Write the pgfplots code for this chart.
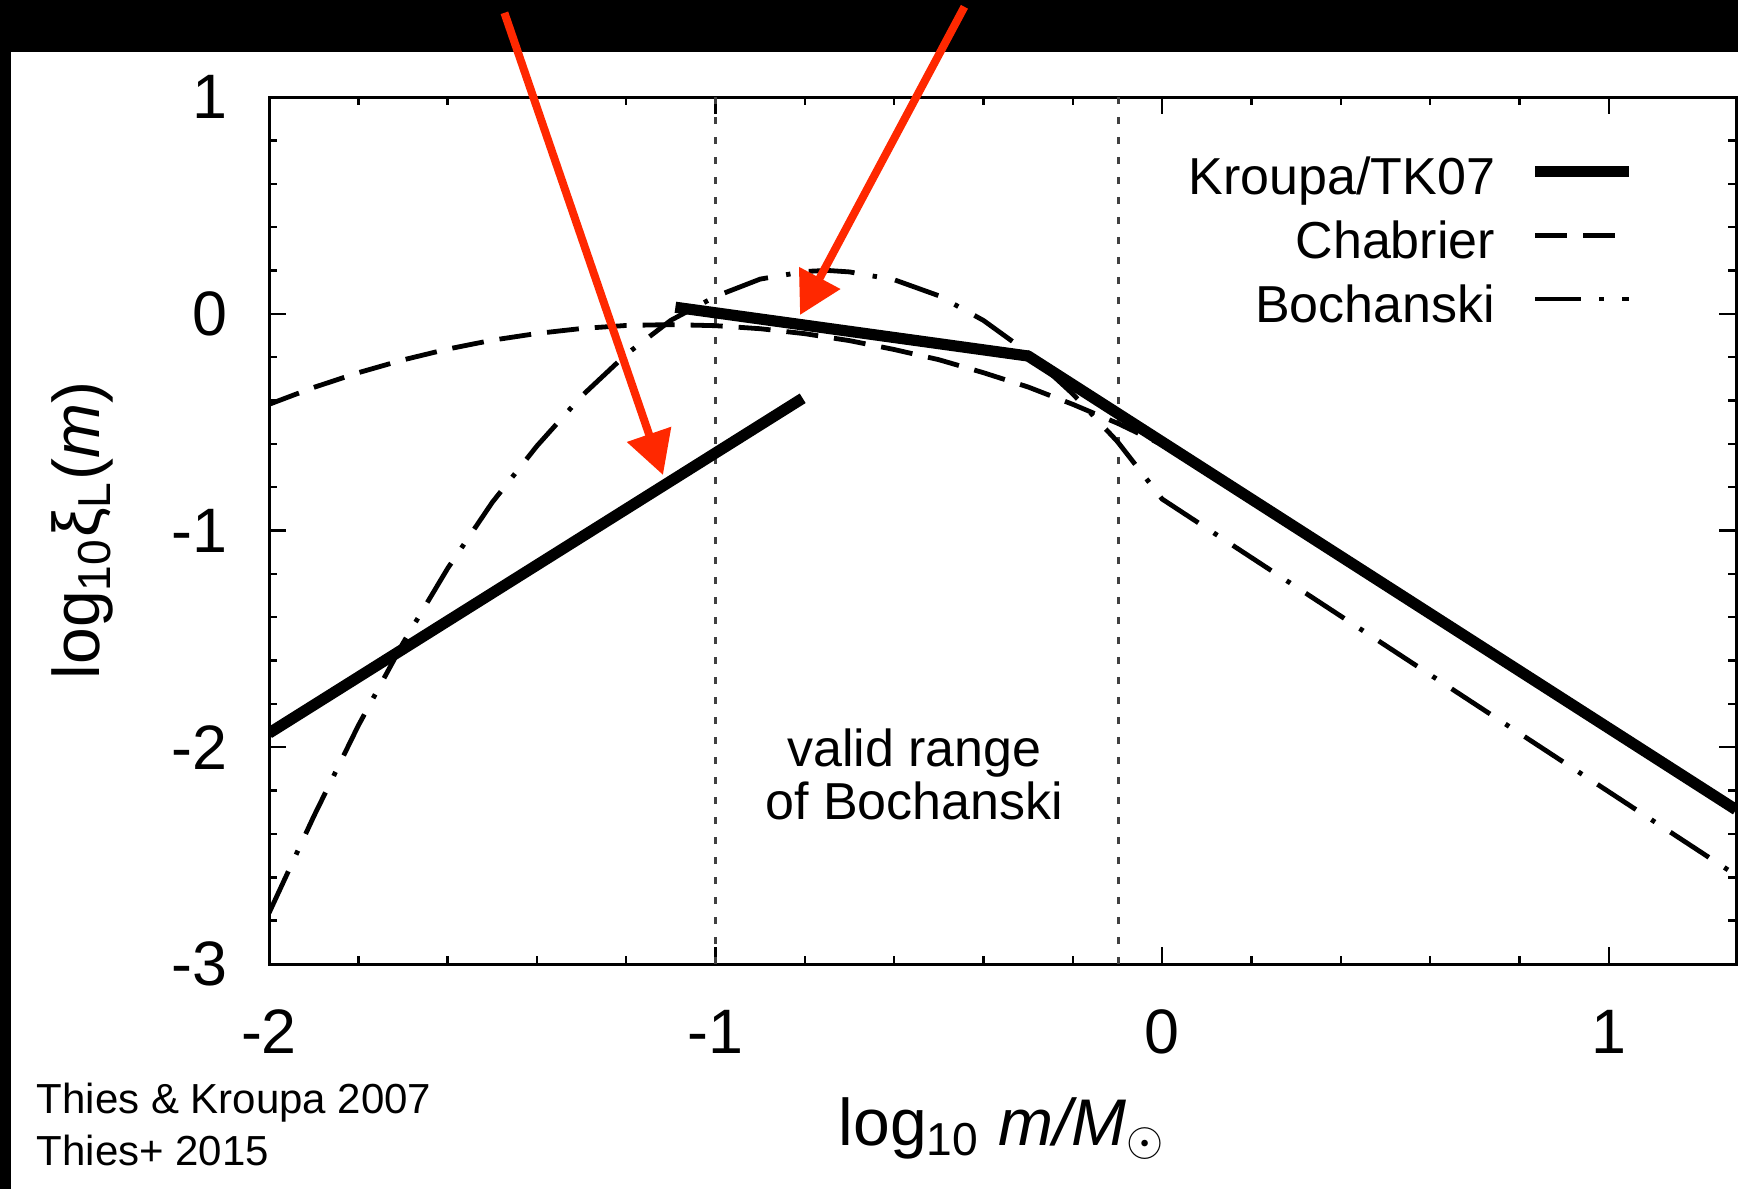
\documentclass[border=0pt]{standalone}
\usepackage{fontspec}
\setmainfont{Liberation Sans}
\usepackage{pgfplots}
\pgfplotsset{compat=1.18}
\usetikzlibrary{arrows.meta}
\definecolor{arrowred}{RGB}{255,40,0}
\begin{document}
\begin{tikzpicture}
\useasboundingbox (0,0) rectangle (434.5bp,-297.25bp);
\fill[white] (0,0) rectangle (434.5bp,-297.25bp);
\fill[black] (0,0) rectangle (434.5bp,-13bp);
\fill[black] (0,0) rectangle (2.75bp,-297.25bp);
\begin{axis}[
  at={(67.25bp,-241bp)}, anchor=south west,
  scale only axis, width=366.75bp, height=216.75bp,
  xmin=-2, xmax=1.285, ymin=-3, ymax=1,
  xtick={-2,-1,0,1}, xticklabels={-2,-1,0,1},
  ytick={-3,-2,-1,0,1}, yticklabels={-3,-2,-1,0,1},
  minor x tick num=4, minor y tick num=4,
  tick align=inside,
  major tick length=4.25bp, minor tick length=2bp,
  axis line style={line width=0.75bp},
  tick style={line width=0.6bp, black},
  ticklabel style={font=\fontsize{15.7bp}{18bp}\selectfont},
  xticklabel style={anchor=base, inner sep=0pt, yshift=-22.25bp},
  yticklabel style={anchor=east, inner sep=0pt, xshift=-10.25bp},
  xlabel={log\textsubscript{10} \textit{m/M}\textsubscript{$\odot$}},
  ylabel={log\textsubscript{10}ξ\textsubscript{L}(\textit{m})},
  label style={font=\fontsize{16.5bp}{19bp}\selectfont, inner sep=0pt},
  xlabel style={at={(axis description cs:0.5,-0.2088)}, anchor=base},
  ylabel style={at={(axis description cs:-0.1152,0.5)}, rotate=0, anchor=base},
  legend style={at={(axis description cs:0.9309,0.9504)}, anchor=north east,
    draw=none, fill=none, inner sep=0pt, outer sep=0pt, row sep=0pt, column sep=8.6bp,
    font=\fontsize{13bp}{15.9bp}\selectfont,
    nodes={inner sep=0pt, text height=13.7bp, text depth=2.2bp}},
  legend cell align=right,
  legend plot pos=right,
  legend image code/.code={\draw[#1] (0bp,0bp) -- (23.5bp,0bp);},
]
% valid range limits
\addplot[black!75, line width=0.8bp, dash pattern=on 1.7bp off 3.3bp, forget plot] coordinates {(-1,-3) (-1,1)};
\addplot[black!75, line width=0.8bp, dash pattern=on 1.7bp off 3.3bp, forget plot] coordinates {(-0.097,-3) (-0.097,1)};

\addplot[black, line width=2.8bp] coordinates {(-2,-1.935) (-0.805,-0.39)};
\addlegendentry{Kroupa/TK07}

\addplot[black, line width=1.2bp, dash pattern=on 8bp off 4bp] coordinates {
(-2,-0.418) (-1.9,-0.340) (-1.8,-0.272) (-1.7,-0.213) (-1.6,-0.163) (-1.5,-0.122)
(-1.4,-0.091) (-1.3,-0.068) (-1.2,-0.054) (-1.1,-0.050) (-1.0,-0.055) (-0.9,-0.069)
(-0.8,-0.092) (-0.7,-0.124) (-0.6,-0.165) (-0.5,-0.212) (-0.4,-0.272) (-0.3,-0.338)
(-0.2,-0.418) (-0.1,-0.505) (0,-0.604) (1.285,-2.275)};
\addlegendentry{Chabrier}

\addplot[black, line width=1.2bp, dash pattern=on 11.5bp off 4.6bp on 1.1bp off 4.6bp] coordinates {
(-2.0,-2.765) (-1.9,-2.32) (-1.8,-1.90) (-1.7,-1.52) (-1.6,-1.175) (-1.5,-0.87)
(-1.4,-0.61) (-1.3,-0.38) (-1.2,-0.187) (-1.1,-0.03) (-1.0,0.08) (-0.9,0.16)
(-0.8,0.195) (-0.75,0.20) (-0.7,0.193) (-0.6,0.157) (-0.5,0.083) (-0.4,-0.031)
(-0.3,-0.18) (-0.2,-0.37) (-0.1,-0.59) (0,-0.855) (1.285,-2.59)};
\addlegendentry{Bochanski}

\addplot[black, line width=2.8bp, line join=round, forget plot] coordinates {(-1.09,0.03) (-0.30,-0.195) (1.285,-2.288)};

\node[anchor=base, font=\fontsize{13bp}{15bp}\selectfont, inner sep=0pt] at (axis cs:-0.555,-2.0895) {valid range};
\node[anchor=base, font=\fontsize{13bp}{15bp}\selectfont, inner sep=0pt] at (axis cs:-0.555,-2.334) {of Bochanski};
\end{axis}
\draw[arrowred, line width=2bp, -{Triangle[length=10.75bp,width=11.2bp]}] (126.1bp,-3.2bp) -- (165.75bp,-118.75bp);
\draw[arrowred, line width=2bp, -{Triangle[length=10.5bp,width=11.2bp]}] (241.1bp,-1.7bp) -- (200bp,-78.75bp);
\node[anchor=base west, font=\fontsize{10.5bp}{12bp}\selectfont, inner sep=0pt] at (9bp,-278.25bp) {Thies \& Kroupa 2007};
\node[anchor=base west, font=\fontsize{10.5bp}{12bp}\selectfont, inner sep=0pt] at (9bp,-291.25bp) {Thies+ 2015};
\end{tikzpicture}
\end{document}
